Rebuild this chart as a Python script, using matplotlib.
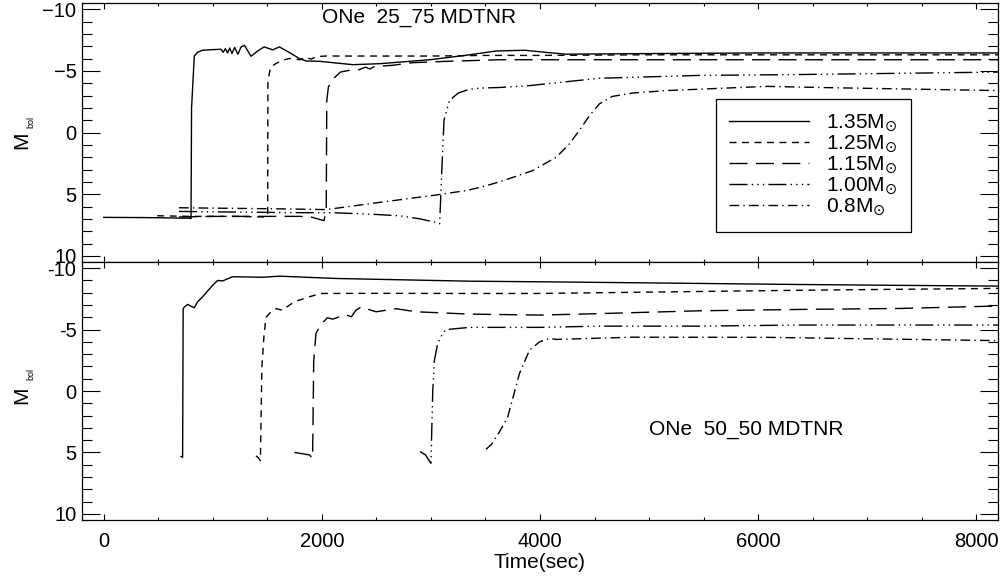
import matplotlib
matplotlib.use("Agg")
import matplotlib.pyplot as plt
from matplotlib.ticker import MultipleLocator, FixedLocator
from matplotlib.transforms import offset_copy

plt.rcParams['font.family'] = ['Liberation Sans', 'DejaVu Sans']
plt.rcParams['lines.scale_dashes'] = False

# -----------------------------
# ONe 25_75 MDTNR  (upper panel)
# -----------------------------
a_135_t = [0, 400, 790, 800, 805, 830, 860, 905, 1000, 1075, 1095, 1115, 1135, 1155, 1175, 1200,
           1230, 1260, 1290, 1350, 1410, 1470, 1550, 1610, 1700, 1795, 1855, 1980, 2285, 2530,
           2990, 3320, 3600, 3860, 4050, 4240, 5000, 6000, 7000, 8200]
a_135_m = [6.88, 6.9, 6.95, 6.98, -2.0, -6.2, -6.5, -6.67, -6.72, -6.75, -6.5, -6.8, -6.45, -6.85,
           -6.4, -6.9, -6.35, -6.95, -7.07, -6.18, -6.6, -6.94, -6.7, -6.94, -6.5, -5.99, -5.8,
           -5.77, -5.5, -5.58, -5.9, -6.26, -6.61, -6.67, -6.5, -6.35, -6.4, -6.45, -6.45, -6.45]

a_125_t = [490, 800, 1200, 1490, 1503, 1505, 1530, 1580, 1640, 1700, 1800, 1850, 1900, 1950,
           2030, 2500, 3000, 3500, 4000, 5000, 6000, 7000, 8200]
a_125_m = [6.75, 6.8, 6.8, 6.85, 6.6, -4.2, -5.3, -5.6, -5.85, -6.0, -5.9, -6.1, -5.95, -6.15,
           -6.2, -6.2, -6.2, -6.25, -6.25, -6.3, -6.3, -6.3, -6.3]

a_115_t = [690, 1000, 1500, 1800, 1900, 1980, 2020, 2040, 2045, 2060, 2110, 2170, 2250, 2345,
           2400, 2440, 2480, 2650, 2830, 3140, 3630, 5000, 6500, 8200]
a_115_m = [6.85, 6.8, 6.8, 6.8, 6.85, 7.05, 7.15, 6.1, -2.6, -3.7, -4.4, -4.9, -5.04, -5.1,
           -5.3, -5.15, -5.35, -5.45, -5.66, -5.77, -5.9, -5.9, -5.9, -5.9]

a_100_t = [690, 1200, 1800, 2070, 2400, 2710, 2900, 3050, 3080, 3100, 3120, 3170, 3250, 3350,
           3450, 3630, 3900, 4546, 5463, 6380, 7300, 8200]
a_100_m = [6.4, 6.45, 6.5, 6.5, 6.6, 6.75, 7.0, 7.3, 7.4, 3.0, -1.0, -2.6, -3.2, -3.5,
           -3.6, -3.65, -3.8, -4.4, -4.63, -4.7, -4.8, -4.9]

a_080_t = [690, 1200, 1700, 2040, 2500, 3020, 3330, 3470, 3630, 3930, 4150, 4270, 4360, 4455,
           4546, 4665, 4850, 5160, 6080, 6685, 8200]
a_080_m = [6.1, 6.15, 6.2, 6.25, 5.7, 5.1, 4.7, 4.4, 4.0, 3.1, 2.0, 0.92, -0.16, -1.38,
           -2.33, -2.93, -3.2, -3.4, -3.74, -3.63, -3.4]

# -----------------------------
# ONe 50_50 MDTNR  (lower panel)
# -----------------------------
b_135_t = [708, 723, 728, 740, 770, 800, 830, 860, 906, 998, 1044, 1090, 1180, 1457, 1610,
           2130, 3353, 4000, 5000, 6380, 7300, 8200]
b_135_m = [5.33, 5.4, -6.7, -6.85, -7.05, -6.9, -6.78, -7.26, -7.67, -8.6, -9.0, -8.96, -9.3,
           -9.26, -9.35, -9.16, -8.94, -8.89, -8.8, -8.67, -8.6, -8.54]

b_125_t = [1396, 1420, 1436, 1450, 1470, 1488, 1534, 1580, 1640, 1680, 1748, 1794, 1885, 1990,
           2500, 3353, 4000, 5000, 6380, 7300, 8200]
b_125_m = [5.28, 5.45, 5.67, -2.0, -4.6, -6.0, -6.45, -6.7, -6.58, -6.85, -7.26, -7.4, -7.67,
           -7.94, -7.95, -7.94, -7.94, -8.05, -8.2, -8.28, -8.35]

b_115_t = [1748, 1885, 1915, 1925, 1946, 1990, 2050, 2100, 2160, 2220, 2270, 2313, 2360, 2405,
           2497, 2680, 2864, 3353, 4000, 4546, 5463, 6380, 7300, 8200]
b_115_m = [5.0, 5.2, 5.47, -2.4, -4.7, -5.4, -5.96, -5.85, -6.04, -6.2, -6.04, -6.58, -6.85,
           -6.7, -6.45, -6.7, -6.45, -6.26, -6.18, -6.3, -6.53, -6.64, -6.72, -6.92]

b_100_t = [2900, 2950, 3000, 3017, 3032, 3063, 3108, 3140, 3353, 4000, 4546, 5463, 6380, 8200]
b_100_m = [4.93, 5.2, 5.88, -0.08, -2.5, -3.9, -4.7, -5.0, -5.18, -5.18, -5.28, -5.28, -5.37,
           -5.37]

b_080_t = [3505, 3560, 3630, 3705, 3812, 3904, 3996, 4087, 4150, 4850, 6075, 7000, 8200]
b_080_m = [4.75, 4.3, 3.3, 2.1, -1.43, -3.33, -4.0, -4.28, -4.2, -4.38, -4.37, -4.25, -4.1]

masses = ['1.35', '1.25', '1.15', '1.00', '0.8']
estilos = [
    '-',
    (0, (5, 4)),
    (0, (13, 6)),
    (0, (13, 3, 1, 3, 1, 3, 1, 3)),
    (0, (7, 3, 1, 3)),
]
series_a = [(a_135_t, a_135_m), (a_125_t, a_125_m), (a_115_t, a_115_m),
            (a_100_t, a_100_m), (a_080_t, a_080_m)]
series_b = [(b_135_t, b_135_m), (b_125_t, b_125_m), (b_115_t, b_115_m),
            (b_100_t, b_100_m), (b_080_t, b_080_m)]

fig = plt.figure(figsize=(10.02, 5.77), dpi=100)
ax1 = fig.add_axes([0.0818, 0.5459, 0.9142, 0.4489])
ax2 = fig.add_axes([0.0818, 0.0988, 0.9142, 0.4471], sharex=ax1)


def preparar_eje(ax, ylabels, m_dy, bol_dy):
    ax.set_xlim(-200, 8200)
    ax.set_ylim(10.5, -10.5)
    ax.xaxis.set_major_locator(MultipleLocator(2000))
    ax.xaxis.set_minor_locator(MultipleLocator(500))
    ax.yaxis.set_major_locator(FixedLocator([-10, -5, 0, 5, 10]))
    ax.yaxis.set_minor_locator(MultipleLocator(1))
    ax.set_yticklabels(ylabels)
    ax.tick_params(axis='y', which='major', direction='in', length=13, width=0.8,
                   left=True, right=True, labelsize=14.5, pad=4)
    ax.tick_params(axis='y', which='minor', direction='in', length=7, width=0.8,
                   left=True, right=True)
    ax.tick_params(axis='x', which='major', direction='in', length=4.5, width=0.8,
                   top=True, bottom=True, labelsize=14.5, pad=9)
    ax.tick_params(axis='x', which='minor', direction='in', length=2.5, width=0.8,
                   top=True, bottom=True)
    for s in ax.spines.values():
        s.set_linewidth(0.9)
    # M_bol con subíndice pequeño
    ax.text(0, 0.5, 'M', rotation=90, ha='center', va='top', fontsize=15,
            transform=offset_copy(ax.transAxes, fig=fig, x=-60, y=m_dy, units='dots'))
    ax.text(0, 0.5, 'bol', rotation=90, ha='center', va='bottom', fontsize=6.5,
            transform=offset_copy(ax.transAxes, fig=fig, x=-51, y=bol_dy, units='dots'))


for (t, m), masa, ls in zip(series_a, masses, estilos):
    ax1.plot(t, m, color='black', linewidth=1.0, linestyle=ls, label=masa + r'M$_{\odot}$')
for (t, m), ls in zip(series_b, estilos):
    ax2.plot(t, m, color='black', linewidth=1.0, linestyle=ls)

preparar_eje(ax1, ['\u221210', '\u22125', '0', '5', '10'], 1, 5)
preparar_eje(ax2, ['-10', '-5', '0', '5', '10'], 5, 11)
ax1.tick_params(axis='x', labelbottom=False)

ax1.text(2000, -8.9, 'ONe  25_75 MDTNR', fontsize=15, ha='left', va='baseline')
ax2.text(5000, 3.6, 'ONe  50_50 MDTNR', fontsize=15, ha='left', va='baseline')
ax2.set_xlabel('Time(sec)', fontsize=15, labelpad=1)

leg = ax1.legend(loc='upper left', bbox_to_anchor=(0.692, 0.629), borderaxespad=0,
                 fontsize=15, handlelength=3.8, handletextpad=0.85, labelspacing=0.0,
                 borderpad=0.65, fancybox=False, framealpha=1, edgecolor='black')
leg.get_frame().set_linewidth(0.9)

fig.savefig('out.png', dpi=100)
